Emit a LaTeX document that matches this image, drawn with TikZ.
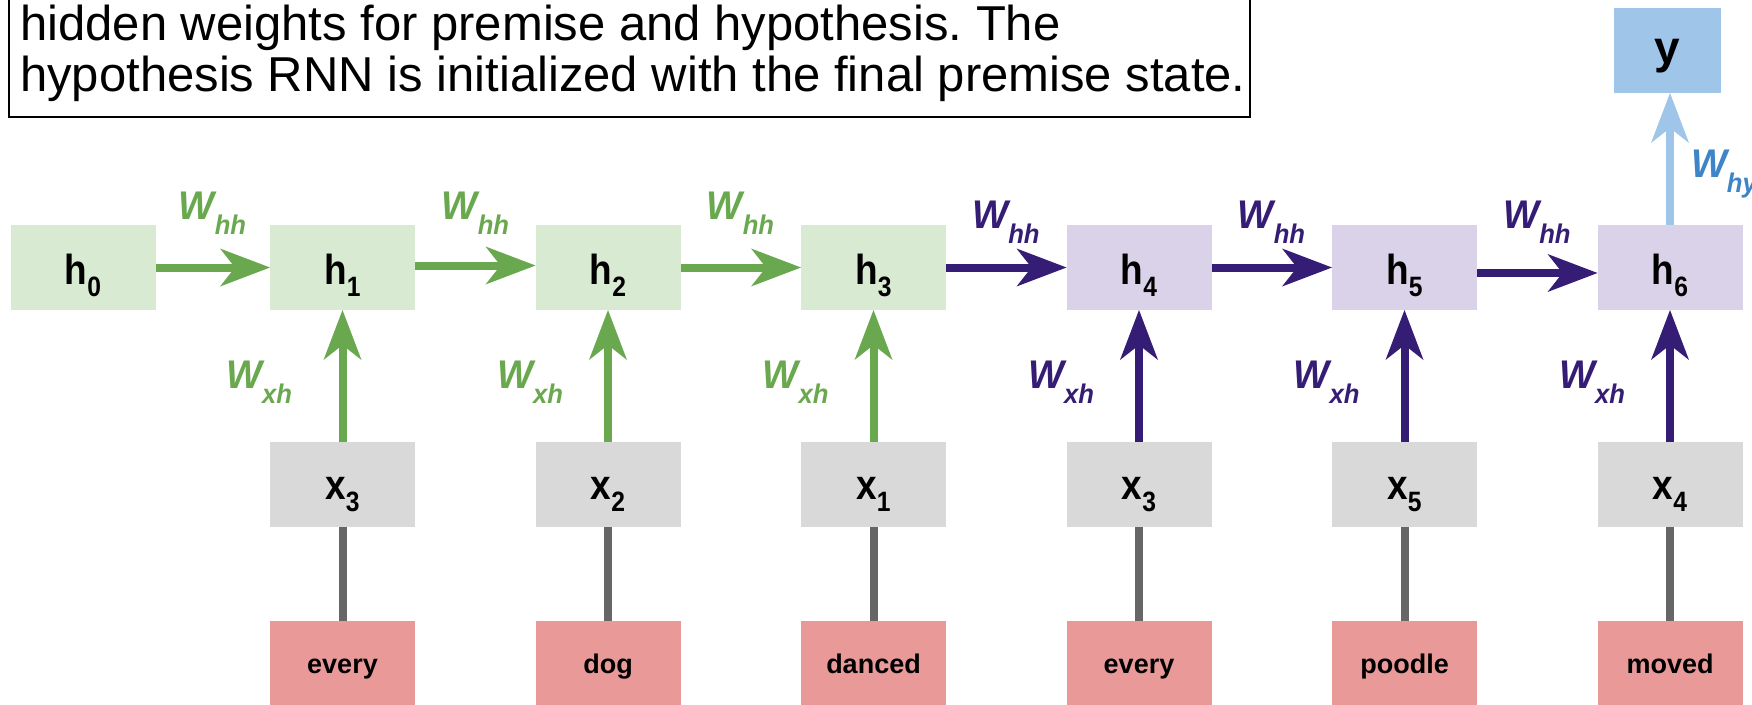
\documentclass[tikz,border=0pt]{standalone}
\usepackage{fontspec}
\setmainfont{Liberation Sans}
\newfontfamily\boxfont[FakeStretch=0.88]{Liberation Sans}
\newfontfamily\wfont[FakeStretch=0.95]{Liberation Sans}
\usetikzlibrary{arrows.meta}
\frenchspacing

\definecolor{premfill}{HTML}{D9EAD3}
\definecolor{hypfill}{HTML}{D9D2E9}
\definecolor{infill}{HTML}{D9D9D9}
\definecolor{wordfill}{HTML}{EA9999}
\definecolor{outfill}{HTML}{9FC5E8}
\definecolor{premcol}{HTML}{6AA84F}
\definecolor{hypcol}{HTML}{351C75}
\definecolor{outcol}{HTML}{3D85C6}
\definecolor{wirecol}{HTML}{666666}

% state / input labels with a subscript index
\newcommand\boxlbl[2]{{\boxfont\bfseries\fontsize{42}{42}\selectfont #1\raisebox{-12pt}{\fontsize{28}{28}\selectfont #2}}}
% weight labels W_{..}
\newcommand\wlbl[1]{{\wfont\bfseries\itshape\fontsize{40}{40}\selectfont W\raisebox{-15pt}{\fontsize{27}{27}\selectfont #1}}}

\tikzset{
  box/.style={rectangle, minimum width=145pt, minimum height=85pt, inner sep=0pt, outer sep=0pt},
  premstate/.style={box, fill=premfill, text height=34pt, text depth=0pt},
  hypstate/.style={box, fill=hypfill, text height=34pt, text depth=0pt},
  inbox/.style={box, fill=infill, text height=30pt, text depth=0pt},
  wordbox/.style={box, fill=wordfill, text height=19pt, text depth=0pt,
    font=\bfseries\fontsize{27}{27}\selectfont},
  outbox/.style={box, minimum width=107pt, fill=outfill, text height=25pt, text depth=0pt,
    font=\bfseries\fontsize{46}{46}\selectfont},
  head/.style={-{Stealth[length=50pt, width=38pt, inset=15pt, line width=0pt]}},
  premarr/.style={head, line width=8pt, draw=premcol, fill=premcol},
  hyparr/.style={head, line width=8pt, draw=hypcol, fill=hypcol},
  outarr/.style={head, line width=8pt, draw=outfill, fill=outfill},
  wire/.style={line width=8pt, draw=wirecol},
  wlabel/.style={inner sep=0pt, outer sep=0pt},
  captext/.style={anchor=base west, inner sep=0pt, font=\fontsize{49}{49}\selectfont},
}

\begin{document}
\begin{tikzpicture}[x=1pt, y=-1pt]
\clip (0,0) rectangle (1752,704);
\fill[white] (0,0) rectangle (1752,704);

% caption box
\draw[line width=2pt, draw=black] (9,-80) rectangle (1250,117);
\node[captext] (cap1) at (20,40) {hidden weights for premise and hypothesis. The};
\node[captext] (cap2) at (20,91) {hypothesis RNN is initialized with the final premise state.};

% hidden states
\node[premstate] (h0) at (83,267.5)     {\boxlbl{h}{0}};
\node[premstate] (h1) at (342.5,267.5)  {\boxlbl{h}{1}};
\node[premstate] (h2) at (608,267.5)    {\boxlbl{h}{2}};
\node[premstate] (h3) at (873.5,267.5)  {\boxlbl{h}{3}};
\node[hypstate]  (h4) at (1139,267.5)   {\boxlbl{h}{4}};
\node[hypstate]  (h5) at (1404.5,267.5) {\boxlbl{h}{5}};
\node[hypstate]  (h6) at (1670,267.5)   {\boxlbl{h}{6}};

% output
\node[outbox] (y) at (1667.5,50.5) {y};

% inputs
\node[inbox] (x1) at (342.5,484.5)  {\boxlbl{x}{3}};
\node[inbox] (x2) at (608,484.5)    {\boxlbl{x}{2}};
\node[inbox] (x3) at (873.5,484.5)  {\boxlbl{x}{1}};
\node[inbox] (x4) at (1139,484.5)   {\boxlbl{x}{3}};
\node[inbox] (x5) at (1404.5,484.5) {\boxlbl{x}{5}};
\node[inbox] (x6) at (1670,484.5)   {\boxlbl{x}{4}};

% words
\node[wordbox] (w1) at (342.5,663.5)  {every};
\node[wordbox] (w2) at (608,663.5)    {dog};
\node[wordbox] (w3) at (873.5,663.5)  {danced};
\node[wordbox] (w4) at (1139,663.5)   {every};
\node[wordbox] (w5) at (1404.5,663.5) {poodle};
\node[wordbox] (w6) at (1670,663.5)   {moved};

% word -> input wires
\foreach \i in {1,...,6} { \draw[wire] (w\i) -- (x\i); }

% recurrent connections
\draw[premarr] (h0) -- (h1);
\draw[premarr] ([yshift=2pt]h1.east) -- ([yshift=2pt]h2.west);
\draw[premarr] (h2) -- (h3);
\draw[hyparr]  (h3) -- (h4);
\draw[hyparr]  (h4) -- (h5);
\draw[hyparr]  ([yshift=-5.5pt]h5.east) -- ([yshift=-5.5pt]h6.west);

% input connections
\foreach \i in {1,2,3} { \draw[premarr] (x\i) -- (h\i); }
\foreach \i in {4,5,6} { \draw[hyparr] (x\i) -- (h\i); }

% output connection
\draw[outarr] (h6.north) -- (h6.north |- y.south);

% weight labels
\node[wlabel, anchor=base, text=premcol] (whh1) at (212.5,219) {\wlbl{hh}};
\node[wlabel, anchor=base, text=premcol] (whh2) at (475.5,219) {\wlbl{hh}};
\node[wlabel, anchor=base, text=premcol] (whh3) at (740.5,219) {\wlbl{hh}};
\node[wlabel, anchor=base, text=hypcol]  (whh4) at (1006,228)  {\wlbl{hh}};
\node[wlabel, anchor=base, text=hypcol]  (whh5) at (1271.5,228) {\wlbl{hh}};
\node[wlabel, anchor=base, text=hypcol]  (whh6) at (1537,228)  {\wlbl{hh}};

\node[wlabel, anchor=base east, text=premcol] (wxh1) at (292,388)    {\wlbl{xh}};
\node[wlabel, anchor=base east, text=premcol] (wxh2) at (563,388)    {\wlbl{xh}};
\node[wlabel, anchor=base east, text=premcol] (wxh3) at (828.5,388)  {\wlbl{xh}};
\node[wlabel, anchor=base east, text=hypcol]  (wxh4) at (1094,388)   {\wlbl{xh}};
\node[wlabel, anchor=base east, text=hypcol]  (wxh5) at (1359.5,388) {\wlbl{xh}};
\node[wlabel, anchor=base east, text=hypcol]  (wxh6) at (1625,388)   {\wlbl{xh}};

\node[wlabel, anchor=base west, text=outcol] (why) at (1691,177) {\wlbl{hy}};
\end{tikzpicture}
\end{document}
